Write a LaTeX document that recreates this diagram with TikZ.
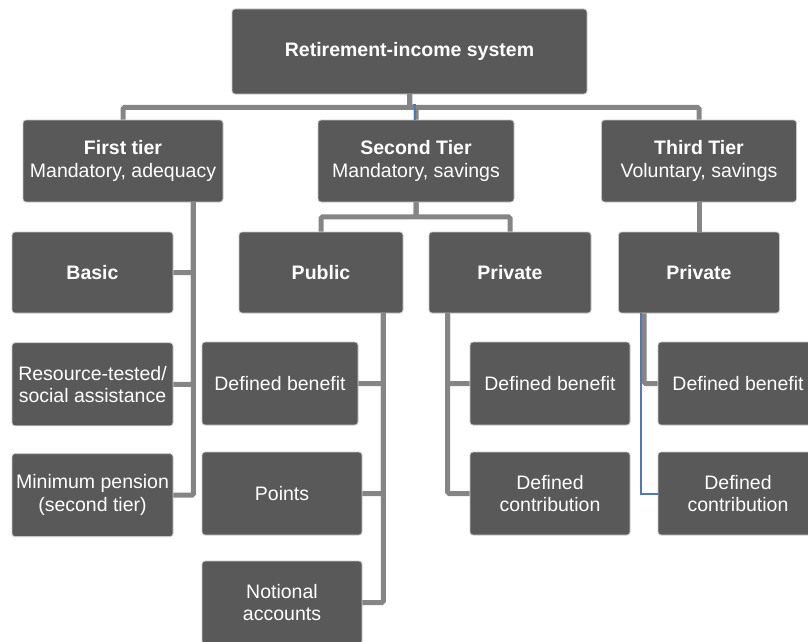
\documentclass[tikz,border=0pt]{standalone}
\usepackage{fontspec}
\setmainfont{Liberation Sans}
\usepackage{tikz}
\usetikzlibrary{positioning,calc}
\definecolor{boxgray}{HTML}{595959}
\definecolor{linegray}{HTML}{858585}
\definecolor{selblue}{HTML}{4F78B8}
\pgfkeys{tikz/pbox/.style={draw=white!78!black,line width=0.8pt,fill=boxgray,rounded corners=3pt,text=white,align=center,inner sep=2pt,font=\fontsize{19.5}{22.5}\selectfont}}
\pgfkeys{tikz/link/.style={draw=linegray,line width=5pt,rounded corners=1.5pt}}
\pgfkeys{tikz/sel/.style={draw=selblue,line width=2pt}}

\begin{document}
\begin{tikzpicture}[x=1pt,y=-1pt]
  \clip (0,0) rectangle (808,642);
  \node[pbox,minimum width=355pt,minimum height=85pt] (root) at (409.5,51.5) {\textbf{Retirement-income system}};

  \node[pbox,minimum width=200pt,minimum height=82pt] (t1) at (123,161) {\textbf{First tier}\\Mandatory, adequacy};
  \node[pbox,minimum width=196pt,minimum height=82pt] (t2) at (416,161) {\textbf{Second Tier}\\Mandatory, savings};
  \node[pbox,minimum width=195pt,minimum height=82pt] (t3) at (699,161) {\textbf{Third Tier}\\Voluntary, savings};

  \node[pbox,minimum width=161pt,minimum height=81pt] (basic) at (92.5,272.5) {\textbf{Basic}};
  \node[pbox,minimum width=164pt,minimum height=81pt] (pub) at (321,272.5) {\textbf{Public}};
  \node[pbox,minimum width=162pt,minimum height=81pt] (priv2) at (510,272.5) {\textbf{Private}};
  \node[pbox,minimum width=161pt,minimum height=81pt] (priv3) at (699,272.5) {\textbf{Private}};

  \node[pbox,minimum width=161pt,minimum height=83pt,below=29pt of basic] (restest) {Resource-tested/\\social assistance};
  \node[pbox,minimum width=161pt,minimum height=83pt,below=27pt of restest] (minpen) {Minimum pension\\(second tier)};

  \node[pbox,minimum width=156pt,minimum height=83pt] (pubdb) at (280,383.5) {Defined benefit};
  \node[pbox,minimum width=160pt,minimum height=83pt] (points) at (282,493.5) {Points};
  \node[pbox,minimum width=160pt,minimum height=83pt] (notional) at (282,602.5) {Notional\\accounts};

  \node[pbox,minimum width=160pt,minimum height=83pt] (privdb) at (550,383.5) {Defined benefit};
  \node[pbox,minimum width=160pt,minimum height=83pt] (privdc) at (550,493.5) {Defined\\contribution};

  \node[pbox,minimum width=160pt,minimum height=83pt] (voldb) at (738,383.5) {Defined benefit};
  \node[pbox,minimum width=160pt,minimum height=83pt] (voldc) at (738,493.5) {Defined\\contribution};

  \draw[link] (root.south) -- ++(0,13) -| (t1.north);
  \draw[link] (root.south) -- ++(0,13) -| (t2.north);
  \draw[link] (root.south) -- ++(0,13) -| (t3.north);
  \draw[sel,line width=1.2pt] ([shift={(3pt,-10pt)}]root.south) -| ([xshift=-1pt]t2.north);

  \draw[link] (t2.south) -- ++(0,14.5) -| (pub.north);
  \draw[link] (t2.south) -- ++(0,14.5) -| (priv2.north);
  \draw[link] (t3.south) -- (priv3.north);

  \draw[link] ([xshift=-30pt]t1.south east) |- (basic.east);
  \draw[link] ([xshift=-30pt]t1.south east) |- (restest.east);
  \draw[link] ([xshift=-30pt]t1.south east) |- (minpen.east);

  \draw[link] ([xshift=-20pt]pub.south east) |- (pubdb.east);
  \draw[link] ([xshift=-20pt]pub.south east) |- (points.east);
  \draw[link] ([xshift=-20pt]pub.south east) |- (notional.east);

  \draw[link] ([xshift=19pt]priv2.south west) |- (privdb.west);
  \draw[link] ([xshift=19pt]priv2.south west) |- (privdc.west);

  \draw[link] ([xshift=26pt]priv3.south west) |- (voldb.west);
  \draw[sel] ([xshift=23pt]priv3.south west) |- (voldc.west);
\end{tikzpicture}
\end{document}
